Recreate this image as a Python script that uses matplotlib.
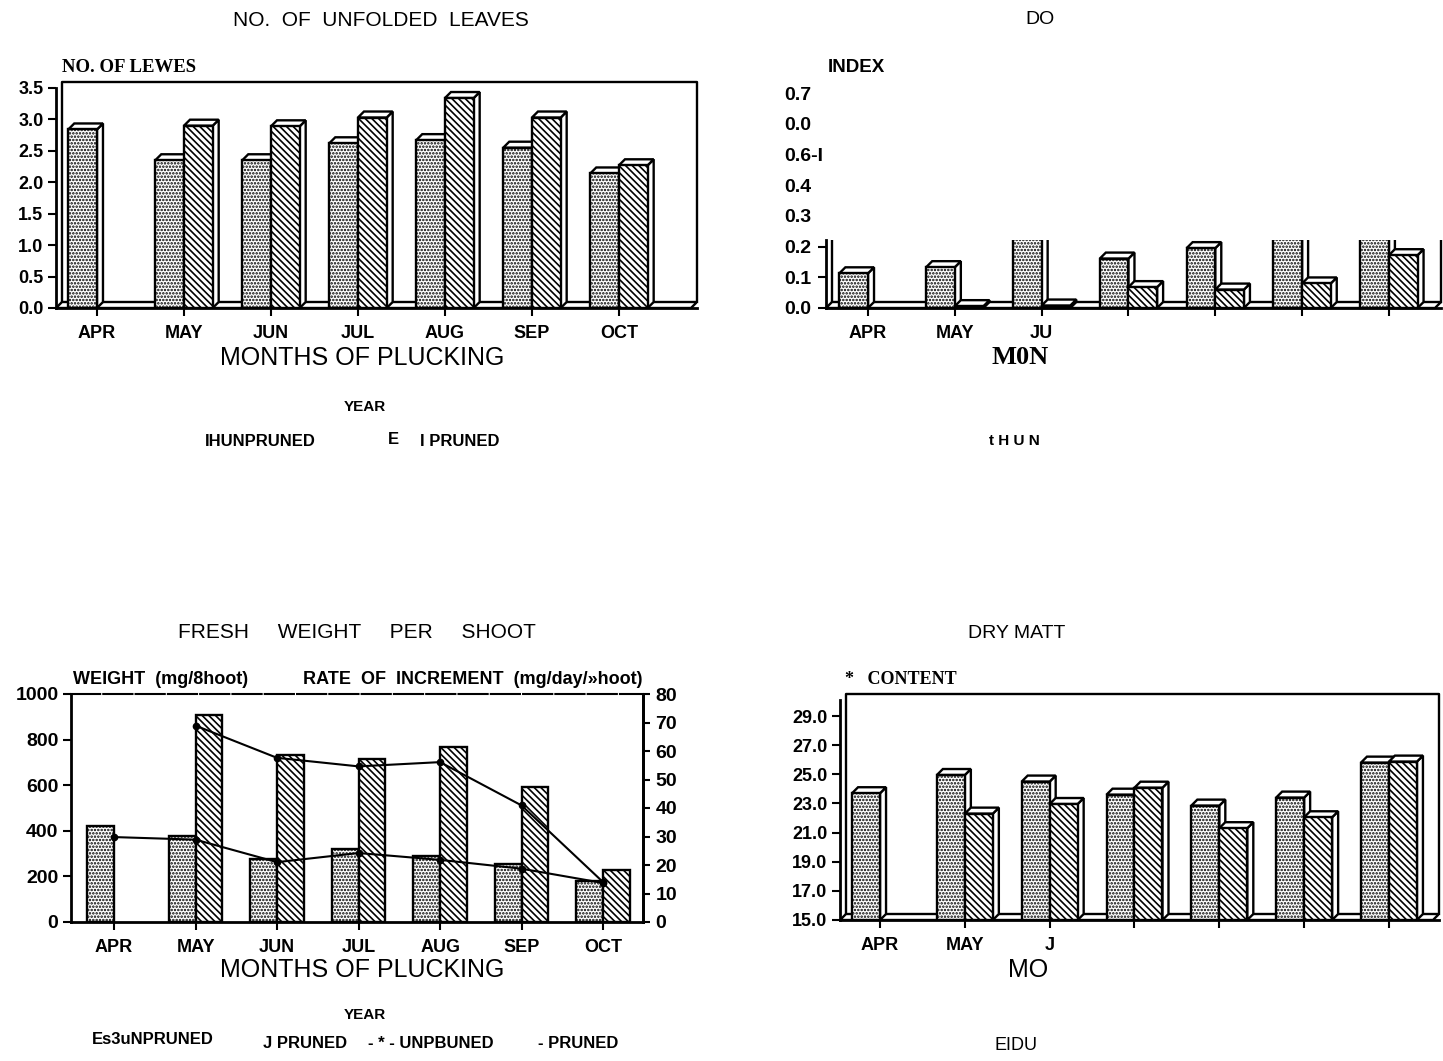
import numpy as np
import matplotlib
matplotlib.use("Agg")
import matplotlib.pyplot as plt
from matplotlib.patches import Polygon, Rectangle

# ---------------------------------------------------------------- data
months = ["APR", "MAY", "JUN", "JUL", "AUG", "SEP", "OCT"]

# number of unfolded leaves per shoot
leaves_unpruned = [2.84, 2.35, 2.35, 2.62, 2.67, 2.55, 2.14]
leaves_pruned = [np.nan, 2.90, 2.89, 3.03, 3.34, 3.03, 2.27]
leaves_ticks = [0.0, 0.5, 1.0, 1.5, 2.0, 2.5, 3.0, 3.5]
leaves_tick_labels = ["0.0", "0.5", "1.0", "1.5", "2.0", "2.5", "3.0", "3.5"]

# DO index
do_unpruned = [0.113, 0.133, 0.30, 0.161, 0.195, 0.28, 0.33]
do_pruned = [np.nan, 0.006, 0.008, 0.068, 0.060, 0.080, 0.172]
do_ticks = [0.0, 0.1, 0.2, 0.3, 0.4, 0.5, 0.6, 0.7]
do_tick_labels = ["0.0", "0.1", "0.2", "0.3", "0.4", "0.6-I", "0.0", "0.7"]
do_month_labels = ["APR", "MAY", "JU", "", "", "", ""]

# fresh weight per shoot and rate of increment
weight_unpruned = [423, 378, 277, 322, 289, 253, 180]
weight_pruned = [np.nan, 909, 733, 715, 766, 591, 226]
rate_unpruned = [29.8, 28.9, 21.0, 24.2, 21.8, 18.7, 13.7]
rate_pruned = [np.nan, 68.9, 57.6, 54.6, 56.1, 40.9, 14.0]
weight_ticks = [0, 200, 400, 600, 800, 1000]
weight_tick_labels = ["0", "200", "400", "600", "800", "1000"]
rate_ticks = [0, 10, 20, 30, 40, 50, 60, 70, 80]

# dry matter content
dry_unpruned = [23.7, 24.95, 24.5, 23.6, 22.85, 23.4, 25.8]
dry_pruned = [np.nan, 22.3, 22.96, 24.08, 21.3, 22.05, 25.87]
dry_ticks = [15, 17, 19, 21, 23, 25, 27, 29]
dry_tick_labels = ["15.0", "17.0", "19.0", "21.0", "23.0", "25.0", "27.0", "29.0"]
dry_month_labels = ["APR", "MAY", "J", "", "", "", ""]

# ---------------------------------------------------------------- styling
W, H = 1443, 1061
LW = 1.7
plt.rcParams["hatch.linewidth"] = 1.2
plt.rcParams["font.family"] = ["Liberation Sans", "DejaVu Sans"]
SANS = ["Liberation Sans", "DejaVu Sans"]
SERIF = ["Liberation Serif", "DejaVu Serif"]
DOTS = "....."
LINES = "\\\\\\\\\\"

fig = plt.figure(figsize=(W / 100, H / 100), dpi=100)
fig.patch.set_facecolor("white")


def axes_px(left, top, right, bottom):
    return fig.add_axes([left / W, 1 - bottom / H, (right - left) / W, (bottom - top) / H])


def ftext(x, y, s, **kw):
    kw.setdefault("ha", "center")
    kw.setdefault("va", "center")
    return fig.text(x / W, 1 - y / H, s, **kw)


def depth_data(ax, px):
    x0, x1 = ax.get_xlim()
    y0, y1 = ax.get_ylim()
    bb = ax.get_position()
    return px * (x1 - x0) / (bb.width * W), px * (y1 - y0) / (bb.height * H)


def bars3d(ax, values, offset, hatch, base, width, depth_px, zorder):
    """Front face drawn with ax.bar, plus a top and right face for depth."""
    dx, dy = depth_data(ax, depth_px)
    v = np.asarray(values, float)
    x = np.arange(len(v)) + offset
    ok = ~np.isnan(v)
    artists = []
    for xl, h in zip(x[ok], v[ok]):
        xr = xl + width
        side = Polygon([(xr, base), (xr, h), (xr + dx, h + dy), (xr + dx, base + dy)],
                       closed=True, fc="white", ec="black", lw=LW, zorder=zorder)
        top = Polygon([(xl, h), (xr, h), (xr + dx, h + dy), (xl + dx, h + dy)],
                      closed=True, fc="white", ec="black", lw=LW, zorder=zorder)
        ax.add_patch(side)
        ax.add_patch(top)
        artists += [side, top]
    bc = ax.bar(x[ok], v[ok] - base, width, bottom=base, align="edge", fc="white",
                ec="black", hatch=hatch, lw=LW, zorder=zorder + 0.5)
    artists += list(bc)
    return artists


def frame3d(ax, base, top, depth_px, closed_top=True):
    """Floor slab and back wall of a 3-D bar chart."""
    dx, dy = depth_data(ax, depth_px)
    x0, x1 = ax.get_xlim()
    floor = Polygon([(x0, base), (x1 - dx, base), (x1, base + dy), (x0 + dx, base + dy)],
                    closed=True, fc="white", ec="black", lw=LW, zorder=1)
    ax.add_patch(floor)
    arts = [floor]
    if closed_top:
        arts += ax.plot([x0 + dx, x0 + dx, x1, x1], [base + dy, top, top, base + dy],
                        color="black", lw=LW, zorder=0.5, clip_on=False)
    else:
        arts += ax.plot([x0 + dx, x0 + dx], [base + dy, top], color="black", lw=LW, zorder=0.5)
        arts += ax.plot([x1, x1], [base + dy, top], color="black", lw=LW, zorder=0.5)
    return arts


def style_axes(ax):
    for s in ["top", "right"]:
        ax.spines[s].set_visible(False)
    for s in ["left", "bottom"]:
        ax.spines[s].set_linewidth(LW + 0.3)
    ax.tick_params(axis="both", direction="out", length=6, width=1.5, pad=4)
    ax.set_facecolor("none")


tick_font = dict(family=SANS, weight="bold", size=13)
month_font = dict(family=SANS, weight="bold", size=13)
cats = np.arange(len(months))
BW = 0.33

# ---------------------------------------------------------------- top left
ax1 = axes_px(56, 82, 697, 308)
ax1.set_xlim(-0.471, 6.897)
ax1.set_ylim(0, 3.595)
style_axes(ax1)
ax1.spines["left"].set_bounds(0, 3.5)
frame3d(ax1, 0, 3.595, 6)
bars3d(ax1, leaves_unpruned, -BW, DOTS, 0, BW, 6, 2)
bars3d(ax1, leaves_pruned, 0, LINES, 0, BW, 6, 3)
ax1.set_yticks(leaves_ticks)
ax1.set_yticklabels(leaves_tick_labels, **tick_font)
ax1.set_xticks(cats)
ax1.set_xticklabels(months, **month_font)
ax1.tick_params(axis="x", pad=6)
ax1.tick_params(axis="y", pad=3)

ftext(381, 20, "NO.  OF  UNFOLDED  LEAVES", family=SANS, size=15)
ftext(62, 67, "NO. OF LEWES", family=SERIF, weight="bold", size=13.5, ha="left")
ftext(362, 358, "MONTHS OF PLUCKING", family=SANS, size=18)
ftext(365, 407, "YEAR", family=SANS, weight="bold", size=11)
ftext(205, 441, "IHUNPRUNED", family=SANS, weight="bold", size=12, ha="left")
ftext(393, 440, "E", family=SANS, weight="bold", size=12)
ftext(420, 441, "I PRUNED", family=SANS, weight="bold", size=12, ha="left")

# ---------------------------------------------------------------- top right
ax2 = axes_px(826, 87, 1441, 308)
ax2.set_xlim(-0.484, 6.60)
ax2.set_ylim(0, 0.72)
style_axes(ax2)
VIS = 0.222
ax2.spines["left"].set_bounds(0, VIS)
clip_rect = Rectangle((-1, -0.05), 10, VIS + 0.05, transform=ax2.transData)
drawn = frame3d(ax2, 0, VIS, 6, closed_top=False)
drawn += bars3d(ax2, do_unpruned, -BW, DOTS, 0, BW, 6, 2)
drawn += bars3d(ax2, do_pruned, 0, LINES, 0, BW, 6, 3)
for art in drawn:
    art.set_clip_on(True)
    art.set_clip_path(clip_rect)
ax2.set_yticks(do_ticks)
ax2.set_yticklabels(do_tick_labels, family=SANS, weight="bold", size=14, ha="left")
ax2.tick_params(axis="y", pad=24)
for i, t in enumerate(ax2.yaxis.get_major_ticks()):
    if do_ticks[i] > VIS:
        t.tick1line.set_visible(False)
ax2.set_xticks(cats)
ax2.set_xticklabels(do_month_labels, **month_font)
ax2.tick_params(axis="x", pad=6)

ftext(1040, 20, "DO", family=SANS, size=14)
ftext(828, 68, "INDEX", family=SANS, weight="bold", size=13.5, ha="left")
ftext(1020, 358, "M0N", family=SERIF, weight="bold", size=19)
ftext(1014, 441, "t H U N", family=SANS, weight="bold", size=11)

# ---------------------------------------------------------------- bottom left
ax3 = axes_px(71, 694, 643, 922)
ax3.set_xlim(-0.528, 6.49)
ax3.set_ylim(0, 1000)
style_axes(ax3)
ax3.spines["right"].set_visible(True)
ax3.spines["right"].set_linewidth(LW + 0.3)
ax3.spines["top"].set_visible(True)
ax3.spines["top"].set_linewidth(1.5)
ax3.spines["top"].set_linestyle((0, (14, 1.5)))
wu = np.asarray(weight_unpruned, float)
wp = np.asarray(weight_pruned, float)
oku, okp = ~np.isnan(wu), ~np.isnan(wp)
ax3.bar(cats[oku] - BW, wu[oku], BW, align="edge", fc="white", ec="black",
        hatch=DOTS, lw=LW, zorder=2)
ax3.bar(cats[okp], wp[okp], BW, align="edge", fc="white", ec="black",
        hatch=LINES, lw=LW, zorder=3)
ax3.set_yticks(weight_ticks)
ax3.set_yticklabels(weight_tick_labels, family=SANS, weight="bold", size=14)
ax3.set_xticks(cats)
ax3.set_xticklabels(months, **month_font)
ax3.tick_params(axis="x", pad=6)
ax3.tick_params(axis="y", pad=3)

ax3r = ax3.twinx()
ax3r.set_ylim(0, 80)
ax3r.set_xlim(ax3.get_xlim())
for s in ["top", "left", "bottom"]:
    ax3r.spines[s].set_visible(False)
ax3r.spines["right"].set_linewidth(LW + 0.3)
ax3r.tick_params(axis="y", direction="out", length=5, width=1.5, pad=4)
ax3r.set_yticks(rate_ticks)
ax3r.set_yticklabels([str(t) for t in rate_ticks], family=SANS, weight="bold", size=14)
ax3r.plot(cats, rate_unpruned, color="black", lw=1.5, marker="o", ms=4.5, zorder=5)
ax3r.plot(cats, rate_pruned, color="black", lw=1.5, marker="o", ms=4.5, zorder=5)

ftext(357, 633, "FRESH     WEIGHT     PER     SHOOT", family=SANS, size=15)
ftext(73, 680, "WEIGHT  (mg/8hoot)", family=SANS, weight="bold", size=13, ha="left")
ftext(303, 680, "RATE  OF  INCREMENT  (mg/day/»hoot)", family=SANS, weight="bold",
      size=13, ha="left")
ftext(362, 970, "MONTHS OF PLUCKING", family=SANS, size=18)
ftext(365, 1015, "YEAR", family=SANS, weight="bold", size=11)
ftext(92, 1040, "Es3uNPRUNED", family=SANS, weight="bold", size=12, ha="left")
ftext(263, 1043, "J PRUNED", family=SANS, weight="bold", size=12, ha="left")
ftext(368, 1043, "- * - UNPBUNED", family=SANS, weight="bold", size=12, ha="left")
ftext(538, 1043, "- PRUNED", family=SANS, weight="bold", size=12, ha="left")

# ---------------------------------------------------------------- bottom right
ax4 = axes_px(840, 694, 1439, 920)
ax4.set_xlim(-0.472, 6.59)
ax4.set_ylim(15, 30.51)
style_axes(ax4)
ax4.spines["left"].set_bounds(15, 30.1)
frame3d(ax4, 15, 30.51, 6)
bars3d(ax4, dry_unpruned, -BW, DOTS, 15, BW, 6, 2)
bars3d(ax4, dry_pruned, 0, LINES, 15, BW, 6, 3)
ax4.set_yticks(dry_ticks)
ax4.set_yticklabels(dry_tick_labels, **tick_font)
ax4.set_xticks(cats)
ax4.set_xticklabels(dry_month_labels, **month_font)
ax4.tick_params(axis="x", pad=6)
ax4.tick_params(axis="y", pad=3)

ftext(1017, 633, "DRY MATT", family=SANS, size=14)
ftext(845, 680, "*   CONTENT", family=SERIF, weight="bold", size=13, ha="left")
ftext(1028, 970, "MO", family=SANS, size=18)
ftext(1016, 1046, "EIDU", family=SANS, size=13)

fig.savefig("out.png", dpi=100, facecolor="white")
